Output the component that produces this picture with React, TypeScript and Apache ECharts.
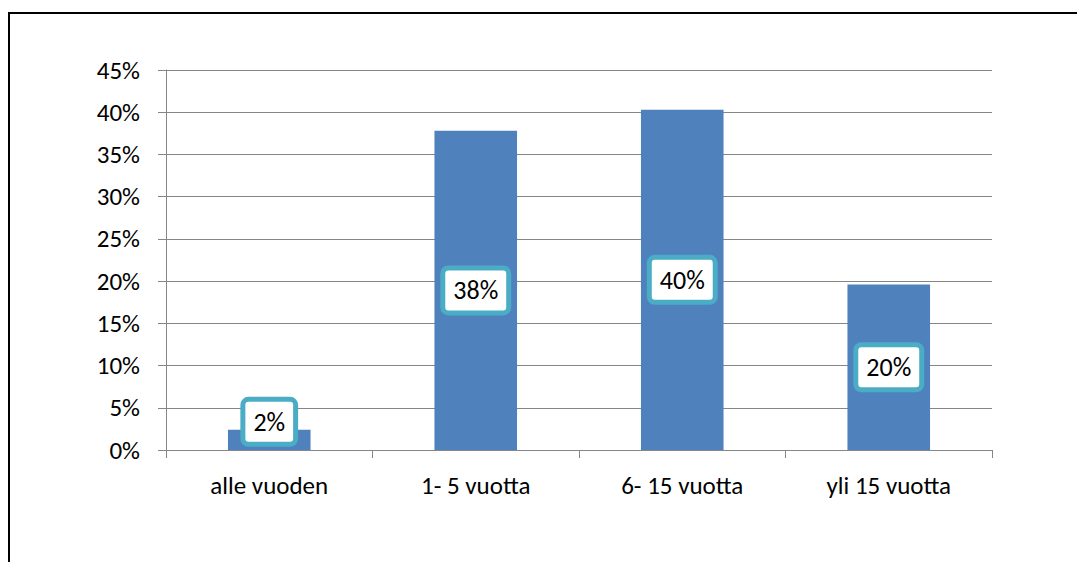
import React, { useEffect, useRef } from "react";
import * as echarts from "echarts";

const categories = ["alle vuoden", "1- 5 vuotta", "6- 15 vuotta", "yli 15 vuotta"];
const shares = [2.4, 37.8, 40.3, 19.6];
const yTicks = { min: 0, max: 45, interval: 5 };

const FONT = "Carlito, Lato, 'Open Sans', sans-serif";

export default function App() {
  const ref = useRef<HTMLDivElement>(null);

  useEffect(() => {
    if (!ref.current) return;
    const chart = echarts.init(ref.current, undefined, { renderer: "svg" });

    const data = shares.map((v, i) => ({
      value: v,
      // the smallest bar's label is lifted so it sits clear of the axis
      label: i === 0 ? { offset: [0, -18] } : undefined,
    }));

    chart.setOption({
      animation: false,
      backgroundColor: "#ffffff",
      graphic: [
        {
          type: "rect",
          shape: { x: 9, y: 13, width: 1200, height: 700 },
          style: { fill: "none", stroke: "#000000", lineWidth: 2 },
          silent: true,
        },
      ],
      grid: { left: 166, top: 70, right: 85, bottom: 112 },
      xAxis: {
        type: "category",
        data: categories,
        axisLine: { show: true, lineStyle: { color: "#868686", width: 1 } },
        axisTick: { show: true, length: 8, lineStyle: { color: "#868686" } },
        axisLabel: { color: "#000000", fontFamily: FONT, fontSize: 25, margin: 23 },
      },
      yAxis: {
        type: "value",
        min: yTicks.min,
        max: yTicks.max,
        interval: yTicks.interval,
        axisLine: { show: true, lineStyle: { color: "#868686", width: 1 } },
        axisTick: { show: true, length: 8, lineStyle: { color: "#868686" } },
        splitLine: { show: true, lineStyle: { color: "#868686", width: 1 } },
        axisLabel: {
          color: "#000000",
          fontFamily: FONT,
          fontSize: 25,
          margin: 26,
          formatter: "{value}%",
        },
      },
      series: [
        {
          type: "bar",
          data,
          barWidth: "40%",
          itemStyle: { color: "#4F81BD" },
          label: {
            show: true,
            position: "inside",
            formatter: (p: any) => Math.round(p.value) + "%",
            color: "#000000",
            fontFamily: FONT,
            fontSize: 26,
            lineHeight: 26,
            backgroundColor: "#ffffff",
            borderColor: "#4BACC6",
            borderWidth: 5,
            borderRadius: 3,
            padding: [7, 8],
          },
        },
      ],
    });

    return () => chart.dispose();
  }, []);

  return (
    <div
      ref={ref}
      style={{ position: "fixed", left: 0, top: 0, width: 1077, height: 562 }}
    />
  );
}
